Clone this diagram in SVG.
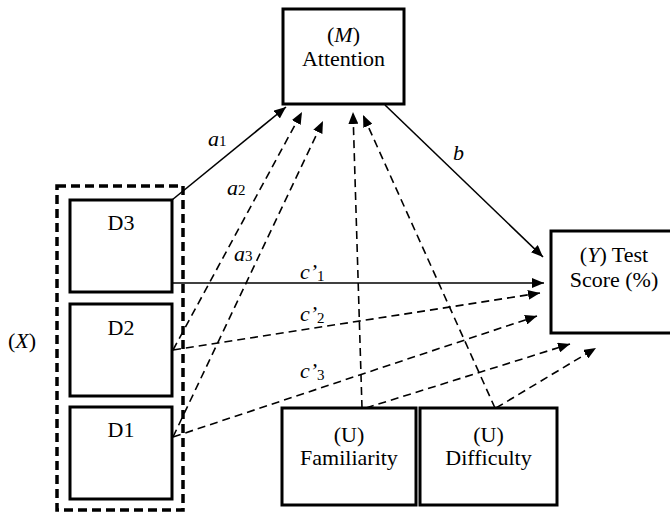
<svg xmlns="http://www.w3.org/2000/svg" width="670" height="512" viewBox="0 0 670 512" font-family="'Liberation Serif', 'Times New Roman', Times, serif">
<style>
  .box{fill:#fff;stroke:#000;stroke-width:3}
  .t{font-family:'Liberation Serif','Times New Roman',Times,serif;font-size:22px;fill:#000;text-anchor:middle}
  .lab{font-family:'Liberation Serif','Times New Roman',Times,serif;font-size:22px;fill:#000;font-style:italic}
  .sub{font-style:normal;font-size:15px}
  .c{fill:none;stroke:#000;stroke-width:1.6}
  .d{stroke-dasharray:8 5}
</style>
<defs>
  <marker id="ah" viewBox="0 0 12 10" refX="12" refY="5" markerWidth="12" markerHeight="10" markerUnits="userSpaceOnUse" orient="auto">
    <path d="M0,0 L12,5 L0,10 z" fill="#000"/>
  </marker>
</defs>
<rect width="670" height="512" fill="#fff"/>

<g id="M">
  <rect class="box" x="283" y="9" width="121" height="95"/>
  <text class="t" x="343.5" y="42">(<tspan font-style="italic">M</tspan>)</text>
  <text class="t" x="343.5" y="66">Attention</text>
</g>
<g id="Y">
  <rect class="box" x="551" y="231" width="125" height="102"/>
  <text class="t" x="614" y="262">(<tspan font-style="italic">Y</tspan>) Test</text>
  <text class="t" x="614" y="287">Score (%)</text>
</g>
<g id="X">
  <rect x="57" y="186" width="126" height="324" fill="none" stroke="#000" stroke-width="3.5" stroke-dasharray="9 5"/>
  <text class="t" x="22" y="348">(<tspan font-style="italic">X</tspan>)</text>
</g>
<g id="D3">
  <rect class="box" x="70" y="200" width="102" height="92"/>
  <text class="t" x="121" y="230">D3</text>
</g>
<g id="D2">
  <rect class="box" x="70" y="304" width="102" height="92"/>
  <text class="t" x="121" y="335">D2</text>
</g>
<g id="D1">
  <rect class="box" x="70" y="407" width="102" height="92"/>
  <text class="t" x="121" y="437">D1</text>
</g>
<g id="Familiarity">
  <rect class="box" x="282" y="408" width="134" height="97"/>
  <text class="t" x="349" y="442">(U)</text>
  <text class="t" x="349" y="465">Familiarity</text>
</g>
<g id="Difficulty">
  <rect class="box" x="420" y="408" width="137" height="97"/>
  <text class="t" x="488.5" y="442">(U)</text>
  <text class="t" x="488.5" y="465">Difficulty</text>
</g>

<g id="connectors">
  <path class="c" d="M172,200 L286,107" marker-end="url(#ah)"/>
  <path class="c d" d="M173,350 L302,112" marker-end="url(#ah)"/>
  <path class="c d" d="M173,437 L323,121" marker-end="url(#ah)"/>
  <path class="c d" d="M362,408 L353,112" marker-end="url(#ah)"/>
  <path class="c d" d="M495,408 L363,115" marker-end="url(#ah)"/>
  <path class="c" d="M385,105 L543,257" marker-end="url(#ah)"/>
  <path class="c" d="M172,283 L544,283" marker-end="url(#ah)"/>
  <path class="c d" d="M173,350 L540,293" marker-end="url(#ah)"/>
  <path class="c d" d="M173,437 L537,316" marker-end="url(#ah)"/>
  <path class="c d" d="M366,408 L570,344" marker-end="url(#ah)"/>
  <path class="c d" d="M496,408 L596,348" marker-end="url(#ah)"/>
</g>

<g id="labels">
  <text class="lab" x="208" y="146">a<tspan class="sub">1</tspan></text>
  <text class="lab" x="227" y="195">a<tspan class="sub">2</tspan></text>
  <text class="lab" x="234" y="261">a<tspan class="sub">3</tspan></text>
  <text class="lab" x="453" y="160">b</text>
  <text class="lab" x="300" y="279">c’<tspan class="sub" dy="2">1</tspan></text>
  <text class="lab" x="300" y="321">c’<tspan class="sub" dy="2">2</tspan></text>
  <text class="lab" x="300" y="378">c’<tspan class="sub" dy="2">3</tspan></text>
</g>
</svg>
